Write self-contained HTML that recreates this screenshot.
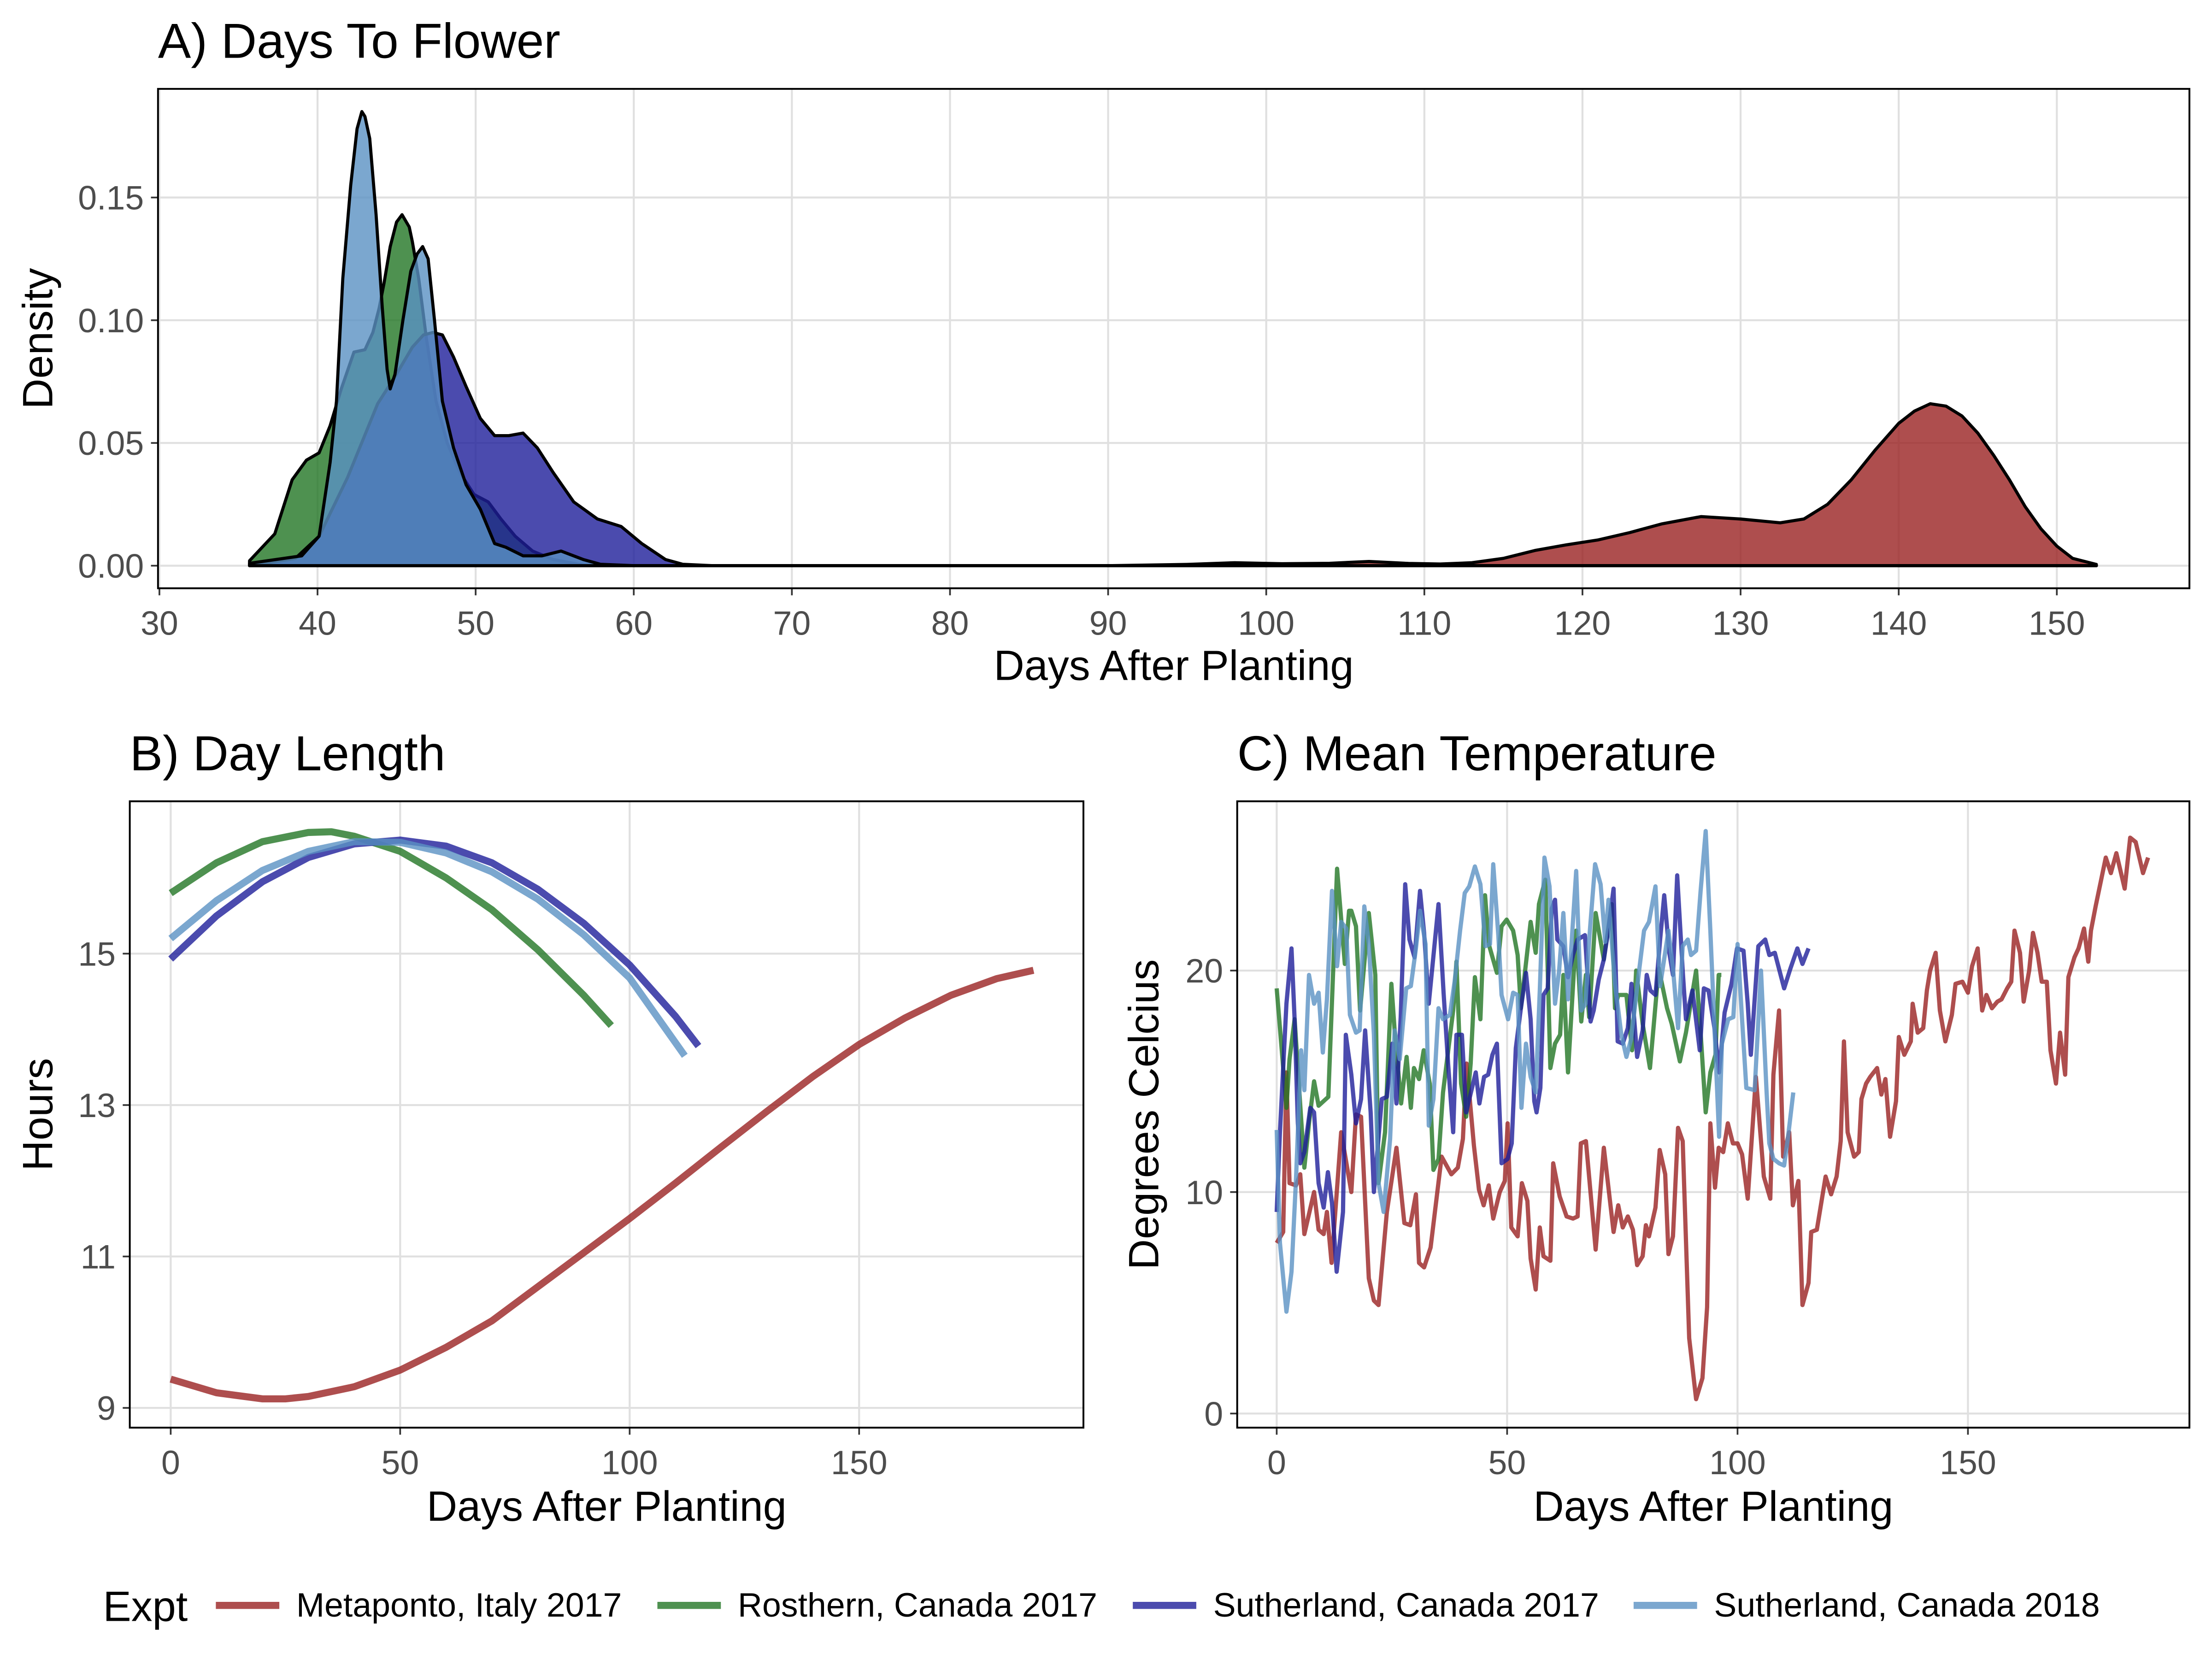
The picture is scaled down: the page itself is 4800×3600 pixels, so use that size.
<!DOCTYPE html>
<html><head><meta charset="utf-8">
<style>
html,body{margin:0;padding:0;background:#fff;}
svg{display:block;font-family:"Liberation Sans",Arial,sans-serif;}
</style></head>
<body>
<svg id="fig" xmlns="http://www.w3.org/2000/svg" width="4800" height="3600" viewBox="0 0 1568 1176">
<rect x="0" y="0" width="1568" height="1176" fill="#fff"/>
</svg>
<script>
// ---------- Panel A: density data ----------
const redDX=[35.7,60,65,90,95,98,101,104,106.5,109,111,113,115,117,119,121,123,125,127.5,130,132.5,134,135.5,137,138.5,140,141,142,143,144,145,146,147,148,149,150,151,152.5];
const redDY=[0,0,0,0,0.0005,0.0012,0.0008,0.001,0.0017,0.0009,0.0007,0.0012,0.003,0.0062,0.0085,0.0105,0.0135,0.017,0.02,0.019,0.0175,0.019,0.025,0.035,0.047,0.058,0.063,0.066,0.065,0.061,0.054,0.045,0.035,0.024,0.015,0.008,0.003,0.0005];
const greenDX=[35.7,37.3,38.4,39.3,40.1,40.8,41.5,42.3,43.0,43.5,43.9,44.2,44.6,45.0,45.35,45.8,46.0,46.4,46.9,47.5,48.2,49.0,49.9,50.8,51.6,52.5,53.6,54.9,57,152.5];
const greenDY=[0.002,0.013,0.035,0.043,0.046,0.057,0.072,0.087,0.088,0.095,0.105,0.115,0.13,0.14,0.143,0.138,0.132,0.117,0.092,0.067,0.05,0.038,0.029,0.026,0.019,0.012,0.006,0.0025,0,0];
const navyDX=[35.7,38.6,40.1,41.9,43.8,44.9,46.0,46.7,47.3,47.9,48.6,49.4,50.3,51.2,52.1,53.0,53.9,54.9,56.2,57.7,59.2,60.5,62,63.1,65,152.5];
const navyDY=[0,0.003,0.012,0.036,0.066,0.077,0.089,0.094,0.095,0.094,0.085,0.073,0.06,0.053,0.053,0.054,0.048,0.038,0.026,0.019,0.016,0.009,0.0025,0.0006,0,0];
const lblueDX=[35.7,39.0,40.1,40.8,41.2,41.6,42.1,42.5,42.8,43.0,43.3,43.7,44.1,44.4,44.6,44.9,45.4,45.9,46.3,46.65,47.0,47.4,47.9,48.6,49.4,50.3,51.2,51.9,53,54.2,55.4,56.8,57.9,60,152.5];
const lblueDY=[0.001,0.004,0.012,0.042,0.067,0.117,0.155,0.178,0.185,0.183,0.174,0.143,0.105,0.08,0.072,0.078,0.1,0.12,0.127,0.130,0.125,0.1,0.067,0.048,0.033,0.023,0.009,0.0075,0.004,0.004,0.006,0.0025,0.0006,0,0];
const densTicksX=[30,40,50,60,70,80,90,100,110,120,130,140,150];
const densTicksY=[0,0.05,0.10,0.15];
const densTickLabelsY=["0.00","0.05","0.10","0.15"];

// ---------- Panel B: day length ----------
const redLX=[0,10,20,25,30,40,50,60,70,80,90,100,110,120,130,140,150,160,170,180,188];
const redLY=[9.38,9.2,9.12,9.12,9.15,9.28,9.5,9.8,10.15,10.6,11.05,11.5,11.97,12.45,12.92,13.38,13.8,14.15,14.45,14.67,14.78];
const greenLX=[0,10,20,30,35,40,50,60,70,80,90,96];
const greenLY=[15.8,16.2,16.48,16.6,16.61,16.55,16.35,16.0,15.58,15.05,14.45,14.05];
const navyLX=[0,10,20,30,40,50,60,70,80,90,100,110,115];
const navyLY=[14.93,15.5,15.95,16.27,16.45,16.5,16.42,16.2,15.85,15.4,14.85,14.17,13.78];
const lblueLX=[0,10,20,30,40,50,60,70,80,90,100,112];
const lblueLY=[15.2,15.7,16.1,16.35,16.48,16.47,16.33,16.08,15.72,15.25,14.68,13.65];
const lenTicksX=[0,50,100,150];
const lenTicksY=[9,11,13,15];

// ---------- Panel C: mean temperature ----------
const redTX=[0,1.4,2.1,2.8,4.2,5.1,6,8.1,9.1,10.2,10.9,11.9,14,16.2,17.2,18.3,20,21.1,22.1,23.9,26,27.7,29,30.2,30.9,32,33.4,35.8,37.9,39.3,40.4,41.2,42.8,43.9,44.9,46,47,48.4,49.5,50.1,50.9,52.3,53.2,54.4,55.1,56.2,57.1,57.9,59.4,60,61.4,62.9,64.3,65.3,66,67.1,69.2,71,73.1,74.1,75.1,76.2,77.3,78.2,79.4,80.1,80.8,82.2,83.1,84.3,85,86,87.1,88.1,89.5,91,92.4,93.4,94.1,95.1,95.9,96.9,97.9,99,100,101,102.2,104.0,105.7,107.1,107.8,109,109.9,111.2,112,113.2,114.1,115.4,116,117.2,119.1,120.3,121.5,122.4,123.1,123.9,125.3,126.3,126.9,127.9,128.8,130.3,131.2,132.1,133.1,134.4,135,136.2,137.6,138,139.1,140.3,141.1,141.8,143,143.9,145.1,146.5,147.3,148.8,150,150.9,152.1,153.1,154,155.2,156.4,157.3,158.5,159.4,160.1,161.3,162.1,163.3,164.1,165.1,166,167.1,167.9,169.1,170,171.1,171.8,173.1,174,175.2,176.1,176.7,177.7,179.9,181,182.2,184,185.2,186.4,188,189.1];
const redTY=[7.7,8.2,15.4,10.4,10.3,10.8,8.1,10.0,8.3,8.1,9.1,6.8,12.7,10,13.5,13.4,6.1,5.1,4.9,9.1,12,8.6,8.5,9.9,6.8,6.6,7.5,11.6,10.8,11.1,12.4,15.8,12.1,10.1,9.4,10.3,8.8,10,10.5,13.1,8.4,8,10.4,9.6,7,5.6,8.4,7.1,6.9,11.3,9.8,8.9,8.8,8.9,12.2,12.3,7.4,12,8.2,9.4,8.4,8.9,8.3,6.7,7.1,8.5,8,9.3,11.9,10.8,7.2,8,12.9,12.3,3.4,0.65,1.6,4.8,13.1,10.2,12,11.8,13.1,12.2,12.2,11.7,9.7,15.2,10.7,9.7,15.3,18.2,11.6,12.7,9.4,10.5,4.9,5.9,8.2,8.3,10.7,9.9,10.7,12.3,16.8,12.7,11.6,11.8,14.2,14.9,15.2,15.6,14.4,15.1,12.5,14.1,17,16.2,16.8,18.5,17.2,17.4,19.1,20,20.8,18.2,16.8,18,19.4,19.5,19,20.2,21,18.2,18.9,18.3,18.6,18.7,19.2,19.5,21.8,20.8,18.6,20,21.7,20.8,19.5,19.5,16.4,14.9,17.2,15.3,19.7,20.6,21,21.9,20.4,21.8,22.9,25.1,24.4,25.3,23.7,26,25.8,24.4,25.1];
const greenTX=[0,1.1,2.1,2.8,3.9,4.9,6,7,8.1,9.1,11.2,13.1,14.8,15.7,16.2,17.2,18.1,20,21.4,22.1,23.5,24.9,25.6,27,28.2,29.1,29.8,30.9,31.9,33.2,34,35.1,36.1,38.3,39,40,41.1,42.1,43,44.2,45.2,46,47.8,48.8,49.9,51.3,52.3,53,55.1,56.2,56.9,58.3,59.4,60.4,61.5,62.2,63.2,65,66.1,67.1,67.8,69.2,71,72.7,73.4,74.1,75.9,77.1,78,79.4,81,82.9,84.7,85.7,87.5,88.8,91,92,93.1,94.1,95.2,95.9,96.5];
const greenTY=[19.2,16.4,13.8,16,17.8,14.6,11.1,13.1,15,13.9,14.3,24.6,20.3,22.7,22.7,22,18.2,22.6,19.8,10.4,12.7,19.4,17.3,14,16.1,13.8,15.6,15.1,16.4,14.9,11.0,11.5,14.5,18.2,20.4,14.9,13.4,15.8,19.7,17.8,23.4,21.2,19.9,22,22.3,21.8,20.7,18.3,22.2,20.8,23,24.1,15.6,16.7,17.1,19.8,15.4,21.8,17.7,19.8,17.9,22.6,20.5,23,18.3,18.9,18.9,16.4,20,17.6,15.6,20.1,18.3,17.6,15.9,17.2,20,17.2,13.6,15.4,16.2,19.8,19.8];
const navyTX=[0,0.7,2.1,3.2,3.9,4.6,5.1,6,7.3,8.1,9.1,10.2,11.1,12,13,14.4,15,16.2,17.2,18.3,19.2,20.4,21.1,22.8,23.9,25.1,26,26.9,27.9,28.8,29.9,31.1,32,33,35.1,36.2,37.2,38.3,39,40.2,41.1,43.2,44,45,45.9,46.8,47.8,48.8,50.1,51,51.9,53,54.1,55.1,55.9,56.4,57.2,57.9,58.8,59.7,60.4,60.9,62.2,63.2,64.3,65.3,66.9,68.1,68.8,69.9,71,72,73.1,74,75.1,76.2,77,78.2,79.4,80.3,81.1,82.2,83.2,84.1,85.2,86,86.9,88.1,88.8,90.2,91.8,92.7,93.7,95,96,97.2,98.7,99.9,101.3,102.2,102.9,104.5,106,106.9,108.1,110.1,111.5,113,114.1,115.4];
const navyTY=[9.1,12.7,18.5,21,17.8,13.1,11.3,11.8,13.8,13.6,10.4,9.3,10.9,9.5,6.4,9.1,17.1,15.3,13.1,14.2,17.3,13.6,10,14.2,14.3,16.7,14,17.9,23.9,21.4,20.6,23.6,21.7,18.5,23,19,15.8,12.7,17.1,17.1,13.6,15.4,14,15.2,15.3,16.2,16.7,11.3,11.5,12.2,16.5,18.3,19.9,17.8,14.1,13.6,14.7,18.9,19.2,22.8,23.2,21.4,21.1,19.7,20.7,21.4,21.6,17.7,18.2,19.6,20.5,21.9,23.7,16.8,16.7,17.4,19.4,16.1,17.3,19.8,19.1,18.9,21.4,23.4,20.8,19.8,24.3,20,17.8,19.1,16.4,19.2,19.1,17.4,15.4,18.1,19.4,21,20.9,18.5,16.2,21.1,21.4,20.7,20.8,19.2,20.1,21,20.3,21];
const lblueTX=[0,0.7,2.1,3.2,4.2,5.3,6,7,8.1,9.1,10,10.9,12,13.1,14,15.1,15.9,17.2,18,19,20,21.1,22.1,23.2,24.6,25.6,26.7,28.1,29.1,30.2,31.1,32.3,33,34,35.1,36.1,37.6,38.6,39.8,40.8,41.8,43,44.2,45.3,46.3,47,48.1,48.8,50.2,51.3,52.3,53.1,54.1,55.1,56.2,57.1,58.1,59.2,60.4,61.3,62.2,63.2,65,66.1,67,67.8,69.1,70.3,71.3,72,73.4,74.8,75.9,76.9,78.7,79.7,80.8,82.2,83.2,85,86,87.1,88.1,89.2,89.9,91,92,93.1,94.1,95.2,96,96.6,98,99.1,100,100.9,101.9,103.7,105.1,106.3,106.9,107.8,109,110.1,110.9,112.1];
const lblueTY=[12.8,7.7,4.6,6.4,10.6,16.4,14.6,19.8,18.5,19,16.3,18.7,23.6,20.2,22.2,21.9,18,17.2,17.3,22.9,21.2,17.1,10.4,9.1,12.4,17.3,16,19.2,19.3,21,22.7,21.2,13,14.2,18.3,17.8,18,19.5,21.8,23.5,23.8,24.7,23.9,21.1,21.2,24.8,21.6,18.9,17.8,19,18.9,13.8,16.7,15.2,14.5,19.1,25.1,23.8,18.5,20,22.6,18.7,24.5,18.2,18.5,21.4,24.8,23.9,21.3,23.2,19.4,17.1,16.1,16.9,20.1,21.8,22.2,23.8,19.3,21.8,20.1,17.4,21.1,21.4,20.7,20.9,23.6,26.3,21.8,16.4,12.5,16.7,17.8,17.9,21.2,18.1,14.7,14.6,20,14.6,12.2,11.5,11.3,11.2,12.4,14.5];
const tempTicksX=[0,50,100,150];
const tempTicksY=[0,10,20];

const legendLabels=["Metaponto, Italy 2017","Rosthern, Canada 2017","Sutherland, Canada 2017","Sutherland, Canada 2018"];

// ---------- helpers ----------
const NS="http://www.w3.org/2000/svg";
const svg=document.getElementById('fig');
const COLORS=["#9A2222","#227524","#1E1E9A","#5A91C3"];
const KEYS=["metaponto-2017","rosthern-2017","sutherland-2017","sutherland-2018"];
function mk(tag,attrs,parent){const e=document.createElementNS(NS,tag);for(const k in attrs)e.setAttribute(k,attrs[k]);(parent||svg).appendChild(e);return e;}
function txt(s,attrs,parent){const e=mk('text',attrs,parent);e.textContent=s;return e;}
function lin(d0,d1,r0,r1){return v=>r0+(v-d0)*(r1-r0)/(d1-d0);}

function frame(name,x0,y0,x1,y1,sx,sy,ticksX,ticksY,labX,labY,title,xtitle,ytitle,xtY,ytX){
  const g=mk('g',{});
  
  
  ticksX.forEach(t=>{const l=mk('line',{x1:sx(t),x2:sx(t),y1:y0,y2:y1,stroke:'#E0E0E0','stroke-width':1.4},g);
    });
  ticksY.forEach(t=>{const l=mk('line',{x1:x0,x2:x1,y1:sy(t),y2:sy(t),stroke:'#E0E0E0','stroke-width':1.4},g);
    });
  const dg=mk('g',{},g);
  ticksX.forEach((t,i)=>{mk('line',{x1:sx(t),x2:sx(t),y1:y1,y2:y1+5,stroke:'#333','stroke-width':1.2},g);
    const e=txt(labX[i],{x:sx(t),y:y1+33,'font-size':24,fill:'#4D4D4D','text-anchor':'middle'},g);
    });
  ticksY.forEach((t,i)=>{mk('line',{x1:x0-5,x2:x0,y1:sy(t),y2:sy(t),stroke:'#333','stroke-width':1.2},g);
    const e=txt(labY[i],{x:x0-10,y:sy(t)+8.5,'font-size':24,fill:'#4D4D4D','text-anchor':'end'},g);
    });
  const t=txt(title,{x:x0,y:y0-22,'font-size':35,fill:'#000'},g);
  
  const xt=txt(xtitle,{x:(x0+x1)/2,y:xtY,'font-size':30,fill:'#000','text-anchor':'middle'},g);
  
  const cy=(y0+y1)/2;
  const yt=txt(ytitle,{x:ytX,y:cy,'font-size':30,fill:'#000','text-anchor':'middle',transform:`rotate(-90 ${ytX} ${cy})`},g);
  
  return {g,dg,border:()=>{const b=mk('rect',{x:x0,y:y0,width:x1-x0,height:y1-y0,fill:'none',stroke:'#000','stroke-width':1.3},g);
    }};
}

// ---------- Panel A ----------
{
  const x0=112,x1=1552,y0=63,y1=417;
  const sx=lin(30,150,113,1458), sy=lin(0,0.15,401,140);
  const f=frame('panel-a-days-to-flower',x0,y0,x1,y1,sx,sy,densTicksX,densTicksY,densTicksX.map(String),densTickLabelsY,'A) Days To Flower','Days After Planting','Density',482,37);
  const sets=[[redDX,redDY],[greenDX,greenDY],[navyDX,navyDY],[lblueDX,lblueDY]];
  sets.forEach(([xs,ys],i)=>{
    let d=`M${sx(xs[0])},${sy(0)}`;
    xs.forEach((x,j)=>{d+=` L${sx(x).toFixed(1)},${sy(ys[j]).toFixed(1)}`;});
    d+=` L${sx(xs[xs.length-1])},${sy(0)} Z`;
    const p=mk('path',{d,fill:COLORS[i],'fill-opacity':0.8,stroke:'#000','stroke-width':2.2,'stroke-linejoin':'round'},f.dg);
    
    
  });
  f.border();
}

// ---------- Panel B ----------
{
  const x0=92,x1=768,y0=568,y1=1012;
  const sx=lin(0,150,121,609), sy=lin(9,15,998,676);
  const f=frame('panel-b-day-length',x0,y0,x1,y1,sx,sy,lenTicksX,lenTicksY,lenTicksX.map(String),lenTicksY.map(String),'B) Day Length','Days After Planting','Hours',1078,37);
  const sets=[[redLX,redLY],[greenLX,greenLY],[navyLX,navyLY],[lblueLX,lblueLY]];
  sets.forEach(([xs,ys],i)=>{
    const pts=xs.map((x,j)=>sx(x).toFixed(1)+','+sy(ys[j]).toFixed(1)).join(' ');
    const p=mk('polyline',{points:pts,fill:'none',stroke:COLORS[i],'stroke-opacity':0.8,'stroke-width':5,'stroke-linejoin':'round'},f.dg);
    
    
  });
  f.border();
}

// ---------- Panel C ----------
{
  const x0=877,x1=1552,y0=568,y1=1012;
  const sx=lin(0,150,905,1395), sy=lin(0,20,1002,688);
  const f=frame('panel-c-mean-temperature',x0,y0,x1,y1,sx,sy,tempTicksX,tempTicksY,tempTicksX.map(String),tempTicksY.map(String),'C) Mean Temperature','Days After Planting','Degrees Celcius',1078,821);
  const sets=[[redTX,redTY],[greenTX,greenTY],[navyTX,navyTY],[lblueTX,lblueTY]];
  sets.forEach(([xs,ys],i)=>{
    const pts=xs.map((x,j)=>sx(x).toFixed(1)+','+sy(ys[j]).toFixed(1)).join(' ');
    const p=mk('polyline',{points:pts,fill:'none',stroke:COLORS[i],'stroke-opacity':0.8,'stroke-width':3,'stroke-linejoin':'round'},f.dg);
    
    
  });
  f.border();
}

// ---------- Legend ----------
{
  const g=mk('g',{});
  
  
  const t=txt('Expt',{x:73,y:1149,'font-size':30,fill:'#000'},g);
  
  
  const keyX=[153,466,803,1158];
  legendLabels.forEach((lab,i)=>{
    const e=mk('g',{},g);
    
    
    mk('line',{x1:keyX[i],x2:keyX[i]+45,y1:1138,y2:1138,stroke:COLORS[i],'stroke-opacity':0.8,'stroke-width':5},e);
    txt(lab,{x:keyX[i]+57,y:1146,'font-size':24,fill:'#000'},e);
  });
}
</script>
</body></html>
